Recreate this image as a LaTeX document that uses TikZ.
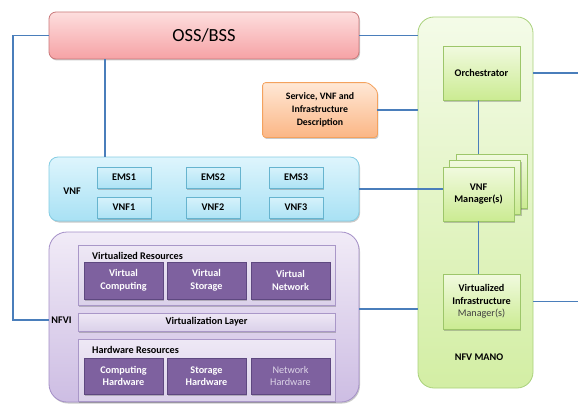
\documentclass[tikz,border=0pt]{standalone}
\usepackage{fontspec}
\setmainfont{Carlito}
\usetikzlibrary{shadows}
\pgfdeclarelayer{bg}
\pgfsetlayers{bg,main}
\definecolor{lineblue}{HTML}{4A7EBB}
\definecolor{ossT}{HTML}{FDDEDE}\definecolor{ossB}{HTML}{F6A2A5}\definecolor{ossD}{HTML}{C9787A}
\definecolor{orT}{HTML}{FFE8D6}\definecolor{orB}{HTML}{FBB685}\definecolor{orD}{HTML}{F4A25E}
\definecolor{manoT}{HTML}{F4FBE8}\definecolor{manoB}{HTML}{D3EEA4}\definecolor{manoD}{HTML}{A9D17B}
\definecolor{gbT}{HTML}{F1FADF}\definecolor{gbB}{HTML}{CBEB92}\definecolor{gbD}{HTML}{9DC66A}
\definecolor{vnfT}{HTML}{DEF5FD}\definecolor{vnfB}{HTML}{A8E1F4}\definecolor{vnfD}{HTML}{86CDE3}
\definecolor{emsT}{HTML}{D7F2FB}\definecolor{emsB}{HTML}{AEE3F5}\definecolor{emsD}{HTML}{66B4CF}
\definecolor{nfviT}{HTML}{F1EBF7}\definecolor{nfviB}{HTML}{CDBDE3}\definecolor{nfviD}{HTML}{A48FC7}
\definecolor{inT}{HTML}{EEE8F5}\definecolor{inB}{HTML}{DBD1EA}\definecolor{inD}{HTML}{A997C8}
\definecolor{darkP}{HTML}{7E619F}\definecolor{darkD}{HTML}{5E4880}
\definecolor{lightTxt}{HTML}{DDD5E8}
\begin{document}
\begin{tikzpicture}[x=1pt,y=-1pt,
  font=\fontsize{10.2}{12.6}\selectfont\bfseries,
  shd/.style={drop shadow={shadow xshift=1pt,shadow yshift=-1.5pt,opacity=0.3,fill=black!70}},
  box/.style={inner sep=0pt, align=center, line width=0.8pt},
  conn/.style={draw=lineblue, line width=1.1pt},
  ossbox/.style={box, rounded corners=7pt, top color=ossT, bottom color=ossB, draw=ossD, shd},
  manobox/.style={box, rounded corners=16pt, top color=manoT, bottom color=manoB, draw=manoD},
  greenbox/.style={box, top color=gbT, bottom color=gbB, draw=gbD, shd},
  vnfbox/.style={box, rounded corners=9pt, top color=vnfT, bottom color=vnfB, draw=vnfD, shd},
  emsbox/.style={box, top color=emsT, bottom color=emsB, draw=emsD, shd, minimum width=54pt, minimum height=21pt},
  nfvibox/.style={box, rounded corners=18pt, top color=nfviT, bottom color=nfviB, draw=nfviD, shd},
  inbox/.style={box, top color=inT, bottom color=inB, draw=inD, shd},
  darkbox/.style={box, fill=darkP, draw=darkD, text=white, shd, minimum width=79pt, minimum height=37pt},
]
\useasboundingbox (0,0) rectangle (578,404);
\coordinate (lx) at (13,0);
\coordinate (vx) at (105,0);
\coordinate (redge) at (578,0);

% NFV MANO container
\node[manobox, minimum width=115pt, minimum height=371pt] (mano) at (475.5,202.5) {};
\node (manolabel) at (479,357) {NFV MANO};

% OSS/BSS
\node[ossbox, minimum width=310pt, minimum height=47pt, font=\fontsize{18.5}{20}\selectfont] (oss) at (204,35.5) {OSS/BSS};

% Description (snipped corner)
\node[box, minimum width=114pt, minimum height=54pt, font=\fontsize{9.8}{12.8}\selectfont\bfseries] (desc) at (320,110) {Service, VNF and\\Infrastructure\\Description};
\begin{pgfonlayer}{bg}
\path[top color=orT, bottom color=orB, draw=orD, line width=0.8pt, rounded corners=3pt, shd]
  (desc.south west) -- (desc.north west) -- ([xshift=-9pt]desc.north east)
  -- ([yshift=-8pt]desc.north east) -- (desc.south east) -- cycle;
\end{pgfonlayer}

% Orchestrator
\node[greenbox, minimum width=77pt, minimum height=54pt] (orch) at (481.5,73) {Orchestrator};

% VNF Manager(s) stack
\node[greenbox, minimum width=71pt, minimum height=54pt] (vnfmC) at (491.5,181) {};
\node[greenbox, minimum width=71pt, minimum height=54pt] (vnfmB) at (485,187.5) {};
\node[greenbox, minimum width=71pt, minimum height=54pt] (vnfm) at (478.5,194) {VNF\\Manager(s)};

% VIM
\node[greenbox, minimum width=77pt, minimum height=55pt] (vim) at (481.5,301.5)
  {Virtualized\\Infrastructure\\{\mdseries\color{black!75}Manager(s)}};

% VNF block
\node[vnfbox, minimum width=310pt, minimum height=64pt] (vnf) at (204,189) {};
\node (vnflabel) at (72,191) {VNF};
\node[emsbox] (ems1) at (124,177.5) {EMS1};
\node[emsbox] (ems2) at (213,177.5) {EMS2};
\node[emsbox] (ems3) at (296,177.5) {EMS3};
\node[emsbox] (vnf1) at (124,207.5) {VNF1};
\node[emsbox] (vnf2) at (213,207.5) {VNF2};
\node[emsbox] (vnf3) at (296,207.5) {VNF3};

% NFVI block
\node[nfvibox, minimum width=310pt, minimum height=170pt] (nfvi) at (204,317) {};
\node (nfvilabel) at (61.5,320) {NFVI};
\node[inbox, minimum width=257pt, minimum height=60pt] (vr) at (206.5,275) {};
\node[anchor=west, inner sep=0pt] (vrlabel) at (92,256) {Virtualized Resources};
\node[darkbox] (vcomp) at (123.5,280.5) {Virtual\\Computing};
\node[darkbox] (vstor) at (206.5,280.5) {Virtual\\Storage};
\node[darkbox] (vnet) at (290.5,280.5) {Virtual\\Network};
\node[inbox, minimum width=257pt, minimum height=18pt] (vl) at (206.5,322) {Virtualization Layer};
\node[inbox, minimum width=257pt, minimum height=62pt] (hr) at (206.5,370) {};
\node[anchor=west, inner sep=0pt] (hrlabel) at (92,350) {Hardware Resources};
\node[darkbox, minimum height=36pt] (hcomp) at (123.5,376) {Computing\\Hardware};
\node[darkbox, minimum height=36pt] (hstor) at (206.5,376) {Storage\\Hardware};
\node[darkbox, minimum height=36pt, text=lightTxt, font=\fontsize{10.2}{12.6}\selectfont\mdseries] (hnet) at (290.5,376) {Network\\Hardware};

% connectors
\draw[conn] (oss.west) -| (lx |- nfvilabel) -- (nfvi.west |- nfvilabel);
\draw[conn] (oss.south -| vx) -- (vnf.north -| vx);
\draw[conn] (oss.east) -- (oss.east -| mano.west);
\draw[conn] (desc.east) -- (desc.east -| mano.west);
\draw[conn] (orch.east -| mano.east) -- (orch.east -| redge);
\draw[conn] (orch.south -| vnfm.north) -- (vnfm.north |- vnfmC.north);
\draw[conn] (vnf.east) -- (vnf.east -| vnfm.west);
\draw[conn] (vnfm.south) -- (vnfm.south |- vim.north);
\draw[conn] ([yshift=8pt]nfvi.east) -- ([yshift=8pt]nfvi.east -| mano.west);
\draw[conn] (vim.east -| mano.east) -- (vim.east -| redge);
\end{tikzpicture}
\end{document}
